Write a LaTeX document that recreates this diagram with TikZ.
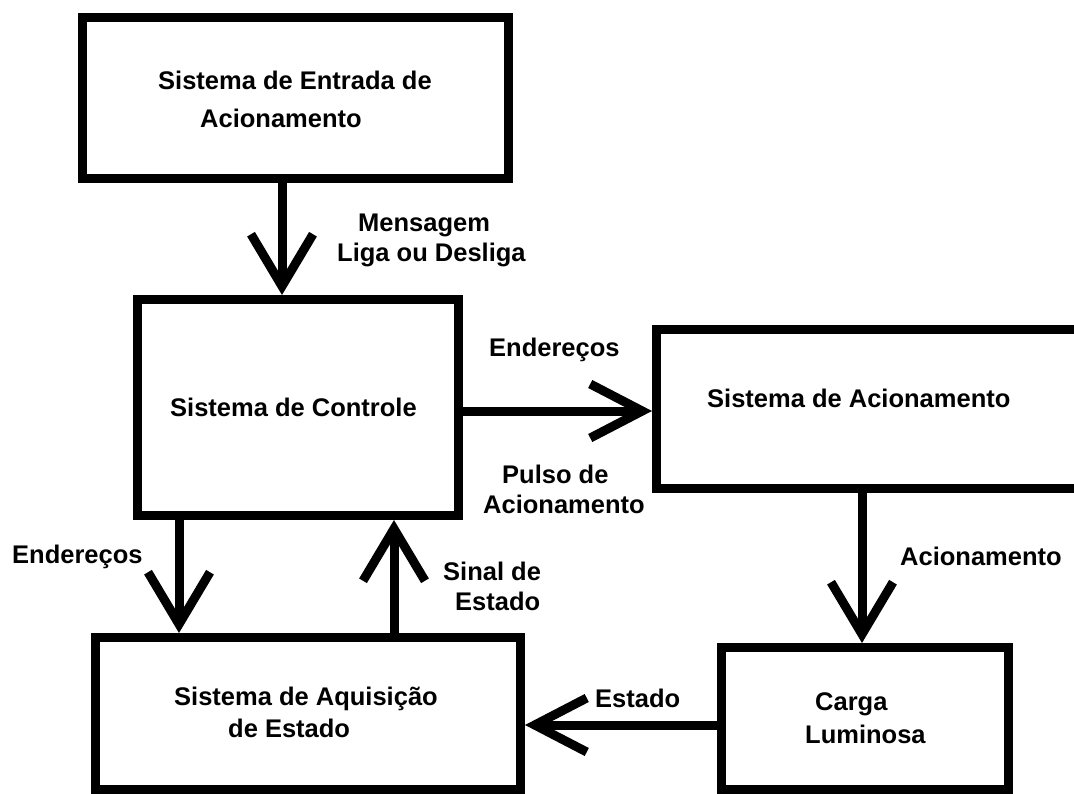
\documentclass[tikz,border=0pt]{standalone}
\usepackage{fontspec}
\setmainfont{Liberation Sans}
\usetikzlibrary{arrows.meta}
\begin{document}
\begin{tikzpicture}[x=1pt,y=-1pt,
  box/.style={draw=black, line width=9pt, inner sep=0pt, fill=white},
  lbl/.style={anchor=base west, inner sep=0pt, text=black,
    font=\fontsize{25.5}{30}\selectfont\bfseries},
  flowv/.style={line width=9pt, -{Straight Barb[length=52pt,width=62pt]}},
  flowh/.style={line width=9pt, -{Straight Barb[length=52pt,width=54pt]}}]
\useasboundingbox (0,0) rectangle (1074,794);
\clip (0,0) rectangle (1074,794);
% boxes
\node[box, minimum width=426pt, minimum height=161pt] (entrada) at (295.5,98) {};
\node[box, minimum width=321pt, minimum height=216pt] (controle) at (298,407.5) {};
\node[box, minimum width=433.5pt, minimum height=159pt] (acion) at (873.25,409) {};
\node[box, minimum width=287pt, minimum height=142pt] (carga) at (865,718.5) {};
\node[box, minimum width=425pt, minimum height=152pt] (aquis) at (308,713.5) {};
% helper coordinates for connector positions
\coordinate (xa) at (282,0);
\coordinate (xb) at (862,0);
\coordinate (xc) at (179,0);
\coordinate (xd) at (394,0);
\coordinate (ya) at (0,411);
\coordinate (yb) at (0,725);
% connectors
\draw[flowv] (entrada.south -| xa) -- (controle.north -| xa);
\draw[flowh] (controle.east |- ya) -- (acion.west |- ya);
\draw[flowv] (acion.south -| xb) -- (carga.north -| xb);
\draw[flowh] (carga.west |- yb) -- (aquis.east |- yb);
\draw[flowv] (controle.south -| xc) -- (aquis.north -| xc);
\draw[flowv] (aquis.north -| xd) -- (controle.south -| xd);
% texts
\node[lbl] (t1a) at (158,90) {Sistema de Entrada de};
\node[lbl] (t1b) at (200,128) {Acionamento};
\node[lbl] (m1) at (358,232) {Mensagem};
\node[lbl] (m2) at (337,262) {Liga ou Desliga};
\node[lbl] (t2) at (170,417) {Sistema de Controle};
\node[lbl] (e1) at (489,357) {Endereços};
\node[lbl] (p1) at (502,483) {Pulso de};
\node[lbl] (p2) at (483,513) {Acionamento};
\node[lbl] (t3) at (707,407) {Sistema de Acionamento};
\node[lbl] (ac) at (900,565) {Acionamento};
\node[lbl] (e2) at (12,563) {Endereços};
\node[lbl] (s1) at (443,580) {Sinal de};
\node[lbl] (s2) at (455,610) {Estado};
\node[lbl] (t5a) at (174,705) {Sistema de Aquisição};
\node[lbl] (t5b) at (228,737) {de Estado};
\node[lbl] (es) at (595,707) {Estado};
\node[lbl] (t4a) at (815,710) {Carga};
\node[lbl] (t4b) at (805,743) {Luminosa};
\end{tikzpicture}
\end{document}
